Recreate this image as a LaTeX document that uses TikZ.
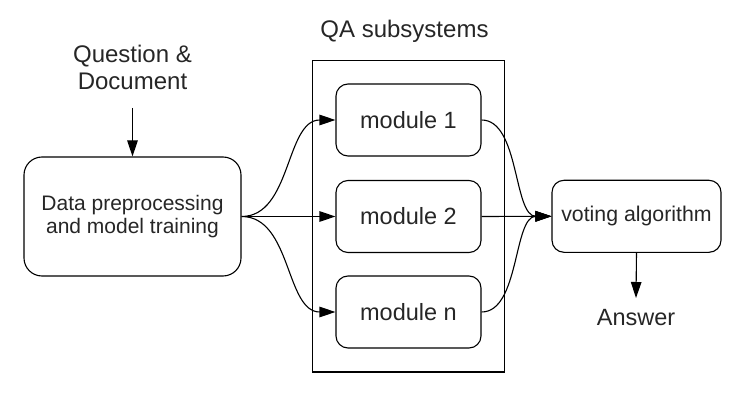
\documentclass[tikz,border=0pt]{standalone}
\usepackage{fontspec}
\setmainfont{Liberation Sans}
\usetikzlibrary{arrows.meta}
\definecolor{txt}{HTML}{262626}
\tikzset{
  box/.style={draw=black, line width=1.1pt, rounded corners=12pt, inner sep=0pt, text=txt},
  lbl/.style={inner sep=0pt, text=txt, align=center},
  conn/.style={line width=1.1pt, -{Triangle[length=16pt,width=10.5pt]}},
}
\begin{document}
\begin{tikzpicture}[x=1pt,y=-1pt]
\useasboundingbox (0,0) rectangle (750,401);
% outer group
\node[draw=black, line width=1.2pt, inner sep=0pt, minimum width=192pt, minimum height=311.5pt] (grp) at (408.2,216.3) {};
\node[lbl, font=\fontsize{24}{27}\selectfont, anchor=base] (qa) at (404.5,37.3) {QA subsystems};
% input label
\node[lbl, font=\fontsize{24}{27}\selectfont] (qd) at (132.5,67) {Question \&\\Document};
% boxes
\node[box, rounded corners=18pt, minimum width=217pt, minimum height=119pt, align=center,
      font=\fontsize{21}{23}\selectfont] (prep) at (132.5,216.5) {Data preprocessing\\and model training};
\node[box, minimum width=145pt, minimum height=72pt, font=\fontsize{23.5}{26}\selectfont] (m1) at (408.5,120) {module 1};
\node[box, minimum width=145pt, minimum height=72pt, font=\fontsize{23.5}{26}\selectfont] (m2) at (408.5,216.5) {module 2};
\node[box, minimum width=145pt, minimum height=72pt, font=\fontsize{23.5}{26}\selectfont] (mn) at (408.5,312) {module n};
\node[box, minimum width=169pt, minimum height=72pt, font=\fontsize{21.3}{24}\selectfont] (vote) at (636.5,216.3) {voting algorithm};
\node[lbl, font=\fontsize{23.5}{26}\selectfont, anchor=base] (ans) at (636,325) {Answer};
% connectors
\coordinate (qdend) at (132.5,108);
\coordinate (ansend) at (636,298);
\draw[conn] (qdend) -- (prep.north);
\draw[conn] (prep.east) .. controls +(50,0) and +(-50,0) .. (m1.west);
\draw[conn] (prep.east) -- (m2.west);
\draw[conn] (prep.east) .. controls +(50,0) and +(-50,0) .. (mn.west);
\draw[conn] (m1.east) .. controls +(38,0) and +(-38,0) .. (vote.west);
\draw[conn] (m2.east) -- (vote.west);
\draw[conn] (mn.east) .. controls +(38,0) and +(-38,0) .. (vote.west);
\draw[line width=1.1pt, -{Triangle[length=16pt,width=10.5pt]}] (vote.south) -- (ansend);
\end{tikzpicture}
\end{document}
